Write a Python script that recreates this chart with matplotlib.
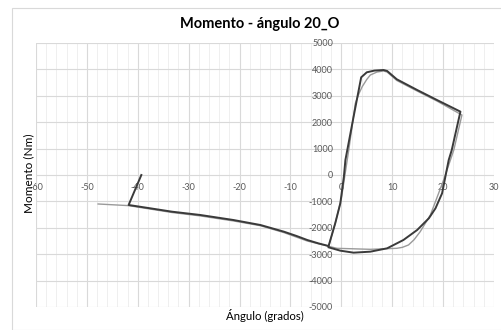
import matplotlib
matplotlib.use("Agg")
import matplotlib.pyplot as plt
from matplotlib.patches import Rectangle
from matplotlib.ticker import MultipleLocator

plt.rcParams['font.family'] = ['Lato', 'DejaVu Sans']

# Measured (experimental) curve - dark line
exp_angle = [-39.3, -41.8, -37.5, -33.3, -27.7, -21.2, -15.9, -11.3, -8.8, -6.7, -4.5, -2.5,
             -1.2, -0.2, 0.5, 0.8, 2.4, 3.9, 5.0, 6.5, 8.3, 9.0, 10.9, 14.9, 18.8, 23.4,
             21.7, 21.1, 20.6, 19.8, 18.5, 17.2, 14.9, 12.2, 9.0, 5.7, 2.4, -0.2, -2.5]
exp_moment = [0, -1136, -1263, -1389, -1515, -1705, -1894, -2146, -2310, -2462, -2590, -2689,
              -1830, -1073, -63, 568, 2200, 3700, 3890, 3955, 3977, 3940, 3625, 3220, 2840, 2400,
              947, 568, 87, -693, -1263, -1640, -2083, -2462, -2777, -2904, -2942, -2866, -2740]

# Simulated curve - grey line
sim_angle = [-47.8, -41.8, -33.3, -27.7, -21.2, -15.9, -11.3, -6.7, -2.5,
             -1.2, 0.0, 1.5, 2.75, 3.5, 4.1, 5.0, 5.7, 7.0, 8.3, 9.0, 10.9, 14.9, 18.8, 23.7,
             22.1, 20.1, 17.5, 15.5, 14.3, 13.2, 12.0, 10.9, 5.7, -0.85, -2.5]
sim_moment = [-1098, -1160, -1420, -1550, -1740, -1920, -2180, -2500, -2700,
              -1830, -900, 1000, 2714, 3100, 3345, 3620, 3788, 3900, 3940, 3900, 3580, 3180, 2800, 2273,
              947, -190, -1515, -2146, -2450, -2650, -2740, -2777, -2815, -2777, -2700]

x_ticks = [-60, -50, -40, -30, -20, -10, 0, 10, 20, 30]
y_ticks = [-5000, -4000, -3000, -2000, -1000, 0, 1000, 2000, 3000, 4000, 5000]

W, H = 502, 330
fig = plt.figure(figsize=(W / 100, H / 100), dpi=100)
fig.patches.append(Rectangle((12 / W, 0), 1.0, 1 - 8 / H, transform=fig.transFigure,
                             facecolor='none', edgecolor='#d9d9d9', lw=0.8, zorder=0))

ax = fig.add_axes([36 / W, 1 - 307 / H, (494 - 36) / W, (307 - 43) / H])
ax.set_facecolor('none')

ax.plot(sim_angle, sim_moment, color='#9a9a9a', lw=1.0, zorder=3)
ax.plot(exp_angle, exp_moment, color='#3a3a3a', lw=1.4, zorder=4)

ax.set_xlim(-60, 30)
ax.set_ylim(-5000, 5000)
ax.set_xticks(x_ticks)
ax.set_yticks(y_ticks)
ax.xaxis.set_minor_locator(MultipleLocator(2))
ax.set_axisbelow(True)
ax.grid(True, which='major', axis='both', color='#d9d9d9', lw=0.8)
ax.grid(True, which='minor', axis='x', color='#efefef', lw=0.7)

for s in ['top', 'right']:
    ax.spines[s].set_visible(False)
ax.spines['left'].set_position(('data', 0))
ax.spines['bottom'].set_position(('data', 0))
ax.spines['left'].set_color('none')
ax.spines['bottom'].set_color('none')

ax.tick_params(axis='both', which='both', length=0, labelsize=6.5, labelcolor='#595959')
ax.tick_params(axis='x', pad=6)
ax.tick_params(axis='y', pad=6)
ax.set_xticklabels([str(v) for v in x_ticks])
ax.set_yticklabels([str(v) for v in y_ticks])

fig.text(260 / W, 1 - 24 / H, 'Momento - ángulo 20_O', ha='center', va='center',
         fontsize=10.5, fontweight='bold', color='#000000')
fig.text(265 / W, 1 - 316 / H, 'Ángulo (grados)', ha='center', va='center',
         fontsize=8.2, color='#000000')
fig.text(29 / W, 1 - 173 / H, 'Momento (Nm)', ha='center', va='center', rotation=90,
         fontsize=8.5, color='#000000')

fig.savefig('out.png', dpi=100)
